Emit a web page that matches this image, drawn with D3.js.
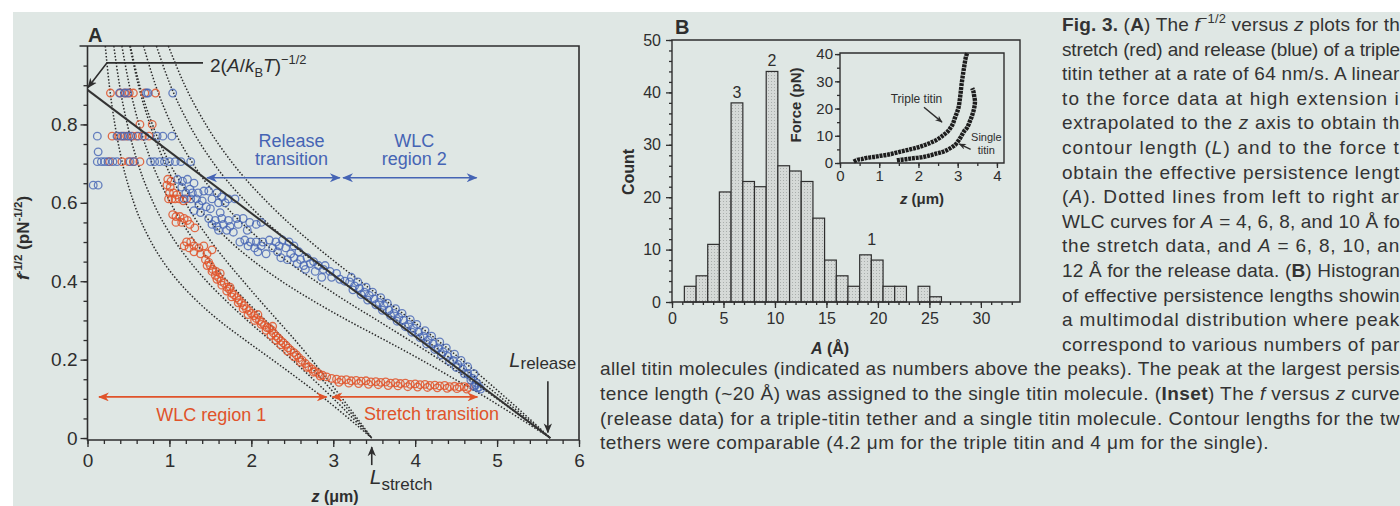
<!DOCTYPE html>
<html>
<head>
<meta charset="utf-8">
<script src="https://cdn.jsdelivr.net/npm/d3@7"></script>
<style>
  body { margin: 0; background: #fff; }
  svg { display: block; font-family: "Liberation Sans", Arial, Helvetica, sans-serif; }
</style>
</head>
<body>
<div id="fig"></div>
<script>
// ---------- Panel A: f^-1/2 vs z, stretch (red) and release (blue) ----------
const stretchPts = [
  [0.28,0.88],[0.40,0.88],[0.46,0.88],[0.51,0.88],[0.56,0.88],[0.70,0.88],[0.83,0.88],
  [0.64,0.80],[0.79,0.80],
  [0.30,0.77],[0.37,0.77],[0.43,0.77],[0.48,0.77],[0.55,0.77],[0.60,0.77],[0.67,0.77],[0.75,0.77],
  [0.27,0.705],[0.42,0.705],[0.50,0.705],[0.56,0.705],[0.64,0.705],
  [0.98,0.66],[1.02,0.655],[0.97,0.645],[1.01,0.64],[1.00,0.625],[1.05,0.625],[1.09,0.62],[0.99,0.61],
  [1.03,0.61],[1.07,0.61],[1.12,0.61],[1.17,0.605],[1.21,0.61],
  [1.04,0.57],[1.08,0.565],[1.13,0.565],[1.18,0.56],[1.22,0.555],[1.08,0.55],[1.15,0.55],[1.25,0.545],[1.31,0.536],
  [1.21,0.50],[1.26,0.50],[1.18,0.49],[1.24,0.485],[1.30,0.49],[1.36,0.485],[1.42,0.49],[1.30,0.475],
  [1.38,0.47],[1.46,0.47],[1.52,0.48],
  [1.44,0.455],[1.48,0.448],[1.50,0.44],[1.53,0.43],[1.57,0.425],[1.56,0.415],[1.60,0.41],[1.63,0.40],
  [1.67,0.395],[1.70,0.385],[1.73,0.38],[1.76,0.37],[1.79,0.365],[1.82,0.358],[1.85,0.352],[1.88,0.345],
  [1.91,0.338],[1.94,0.33],[1.97,0.325],[2.00,0.318],[2.03,0.312],[2.06,0.305],[2.10,0.30],[2.13,0.295],
  [2.16,0.288],[2.19,0.282],[2.22,0.28],[2.25,0.275],[2.27,0.268],[2.30,0.26],[2.33,0.255],[2.36,0.248],
  [2.39,0.243],[2.42,0.237],[2.45,0.23],[2.48,0.224],[2.52,0.218],[2.55,0.212],[2.58,0.205],[2.62,0.198],
  [2.66,0.19],[2.70,0.182],[2.74,0.176],[2.78,0.17],[2.82,0.165],[2.87,0.16],[2.92,0.156],[2.98,0.152],
  [1.46,0.44],[1.52,0.425],[1.58,0.405],[1.64,0.39],[1.70,0.375],[1.76,0.36],[1.84,0.345],[1.90,0.33],
  [1.96,0.315],[2.04,0.30],[2.12,0.29],[2.18,0.275],[2.24,0.262],[2.30,0.25],[2.36,0.238],[2.44,0.222],
  [2.52,0.208],[2.60,0.194],[2.68,0.18],[2.76,0.168],[2.84,0.158],
  [1.62,0.42],[1.74,0.385],[2.08,0.315],[2.26,0.285],
  [3.04,0.15],[3.10,0.148],[3.16,0.149],[3.22,0.146],[3.28,0.147],[3.34,0.145],[3.40,0.146],[3.46,0.143],
  [3.52,0.144],[3.58,0.142],[3.64,0.143],[3.70,0.140],[3.76,0.141],[3.82,0.139],[3.88,0.140],[3.94,0.137],
  [4.00,0.138],[4.06,0.136],[4.12,0.137],[4.18,0.134],[4.24,0.135],[4.30,0.133],[4.36,0.134],[4.42,0.131],
  [4.48,0.132],[4.54,0.130],[4.60,0.131],[4.65,0.129],
  [3.07,0.142],[3.19,0.140],[3.31,0.139],[3.43,0.137],[3.55,0.136],[3.67,0.134],[3.79,0.133],[3.91,0.131],
  [4.03,0.130],[4.15,0.129],[4.27,0.128],[4.39,0.127],[4.51,0.126],[4.63,0.125]
];

const releasePts = [
  [0.39,0.88],[0.45,0.88],[0.49,0.88],[0.72,0.88],[0.74,0.88],[1.04,0.88],
  [0.12,0.77],[0.36,0.77],[0.41,0.77],[0.45,0.77],[0.50,0.77],[0.53,0.77],[0.62,0.77],[0.70,0.77],
  [0.85,0.77],[0.92,0.77],[1.03,0.77],
  [0.13,0.73],
  [0.12,0.705],[0.17,0.705],[0.21,0.705],[0.25,0.705],[0.31,0.705],[0.36,0.705],[0.52,0.705],[0.57,0.705],
  [0.77,0.705],[0.82,0.705],[0.88,0.705],[0.94,0.705],[1.00,0.705],[1.07,0.705],[1.14,0.705],[1.26,0.705],
  [0.07,0.645],[0.13,0.645],
  [1.10,0.66],[1.16,0.655],[1.22,0.66],[1.30,0.65],[1.15,0.64],[1.25,0.635],[1.20,0.625],[1.28,0.625],
  [1.35,0.625],[1.42,0.63],[1.48,0.63],[1.58,0.625],[1.18,0.61],[1.26,0.61],[1.33,0.61],[1.40,0.605],
  [1.52,0.61],[1.64,0.615],[1.72,0.61],[1.80,0.61],[1.36,0.595],[1.45,0.59],[1.60,0.60],[1.68,0.60],
  [1.30,0.58],[1.38,0.575],[1.50,0.585],[1.62,0.575],
  [1.48,0.56],[1.56,0.555],[1.64,0.56],[1.72,0.555],[1.82,0.56],[1.90,0.56],[1.52,0.545],[1.58,0.54],
  [1.66,0.545],[1.74,0.54],[1.84,0.545],[1.98,0.55],[2.06,0.545],[2.12,0.55],[1.60,0.53],[1.70,0.53],
  [1.78,0.525],[1.95,0.53],
  [1.86,0.50],[1.92,0.505],[1.99,0.50],[2.06,0.50],[2.14,0.50],[2.22,0.505],[2.30,0.50],[2.38,0.505],
  [2.46,0.50],[1.96,0.49],[2.04,0.485],[2.12,0.49],[2.26,0.485],[2.34,0.49],[2.42,0.485],[2.52,0.49],
  [2.08,0.475],[2.18,0.47],[2.32,0.475],[2.48,0.47],[2.58,0.475],
  [2.36,0.46],[2.44,0.455],[2.52,0.46],[2.60,0.455],[2.68,0.46],[2.76,0.45],[2.56,0.445],[2.64,0.44],
  [2.72,0.445],[2.82,0.44],[2.90,0.44],[2.66,0.43],[2.78,0.425],[2.88,0.43],[2.96,0.425],[3.04,0.42],
  [2.86,0.41],[2.98,0.41],[3.08,0.405],[3.14,0.40],
  [3.20,0.398],[3.26,0.388],[3.32,0.382],[3.38,0.372],[3.44,0.364],[3.50,0.355],[3.56,0.346],[3.62,0.338],
  [3.68,0.326],[3.74,0.318],[3.80,0.308],[3.86,0.300],[3.92,0.290],[3.98,0.280],[4.04,0.270],[4.10,0.260],
  [4.16,0.250],[4.22,0.240],[4.28,0.230],[4.34,0.220],[4.40,0.208],[4.46,0.198],[4.52,0.188],[4.58,0.176],
  [4.64,0.165],[4.70,0.152],[4.75,0.140],[4.78,0.130],
  [3.22,0.41],[3.30,0.398],[3.40,0.385],[3.48,0.372],[3.58,0.358],[3.66,0.344],[3.76,0.330],[3.84,0.318],
  [3.94,0.302],[4.02,0.290],[4.12,0.274],[4.20,0.260],[4.30,0.245],[4.38,0.230],[4.48,0.214],[4.56,0.198],
  [4.64,0.182],[4.72,0.164],
  [3.24,0.378],[3.34,0.366],[3.42,0.352],[3.52,0.340],[3.60,0.326],[3.70,0.312],[3.78,0.298],[3.88,0.284],
  [3.96,0.270],[4.06,0.256],[4.14,0.240],[4.24,0.226],[4.32,0.212],[4.42,0.196],[4.50,0.180],[4.60,0.164],
  [4.68,0.148],[4.74,0.135],[4.80,0.125],[4.76,0.128],[4.72,0.132]
];

// linear fit to the release data: intercept at z = 0 and at f^-1/2 = 0
const fitLine = [[0, 0.888], [5.65, 0]];

// dotted WLC curves, read at these f^-1/2 levels
const wlcV = [1, 0.9, 0.8, 0.7, 0.6, 0.5, 0.45, 0.4, 0.35, 0.3, 0.25, 0.2, 0.15, 0.1, 0.05, 0];
const stretchA4  = [0.217,0.266,0.334,0.428,0.566,0.777,0.923,1.107,1.334,1.606,1.923,2.255,2.580,2.897,3.189,3.47];
const stretchA6  = [0.321,0.391,0.486,0.617,0.804,1.074,1.250,1.455,1.692,1.950,2.228,2.498,2.754,3.005,3.241,3.47];
const stretchA8  = [0.420,0.510,0.628,0.790,1.014,1.315,1.501,1.711,1.935,2.174,2.411,2.640,2.861,3.071,3.272,3.47];
const stretchA10 = [0.516,0.621,0.762,0.948,1.196,1.513,1.700,1.902,2.108,2.321,2.532,2.734,2.928,3.113,3.293,3.47];
const releaseA6  = [0.523,0.636,0.792,1.005,1.309,1.749,2.035,2.369,2.755,3.176,3.627,4.068,4.484,4.893,5.277,5.65];
const releaseA8  = [0.683,0.831,1.023,1.287,1.650,2.142,2.445,2.787,3.151,3.540,3.925,4.298,4.658,5.000,5.328,5.65];
const releaseA10 = [0.841,1.012,1.240,1.543,1.947,2.463,2.767,3.097,3.432,3.780,4.123,4.452,4.767,5.068,5.362,5.65];
const releaseA12 = [0.987,1.187,1.444,1.775,2.202,2.725,3.019,3.328,3.645,3.961,4.269,4.564,4.848,5.122,5.390,5.65];

const aTicksX = [0, 1, 2, 3, 4, 5, 6];
const aTicksY = [0, 0.2, 0.4, 0.6, 0.8];

// ---------- Panel B: histogram of persistence lengths ----------
const binEdges = [1.2,2.34,3.47,4.6,5.74,6.88,8.01,9.15,10.28,11.42,12.55,13.69,14.82,15.96,17.09,18.23,19.36,20.5,21.63,22.77,23.9,25.04,26.17];
const counts   = [3,5,11,21,38,23,22,44,26,25,23,16,8,5,3,9,8,3,3,0,3,1];
const peakText  = ["3", "2", "1"];
const peakA     = [6.31, 9.72, 19.4];
const peakCount = [38, 44, 9];
const bTicksX = [0, 5, 10, 15, 20, 25, 30];
const bTicksY = [0, 10, 20, 30, 40, 50];

// ---------- Inset: force vs z (release) ----------
const tripleZ = [0.35,0.45,0.55,0.68,0.85,1.02,1.20,1.36,1.52,1.70,1.87,2.04,2.20,2.38,2.52,2.64,2.74,2.81,2.88,2.93,2.98,3.02,3.06,3.10,3.15,3.21,3.24];
const tripleF = [0.5,1.2,1.4,1.9,2.2,2.6,3.0,3.5,4.1,4.7,5.3,6.0,6.8,7.9,9.0,10.3,11.5,12.8,14.5,16.6,18.5,20.3,24.0,29.0,34.0,39.0,40.3];
const singleZ = [1.45,1.55,1.68,1.79,1.95,2.13,2.30,2.47,2.60,2.72,2.83,2.93,3.00,3.06,3.11,3.16,3.24,3.31,3.36,3.40,3.43,3.44,3.42,3.40,3.37];
const singleF = [1.0,1.2,1.4,1.6,1.9,2.2,2.8,3.5,4.0,4.7,5.6,6.6,7.8,9.1,10.3,11.6,13.0,15.3,17.2,19.0,21.0,22.8,24.6,26.3,27.5];
const iTicksX = [0, 1, 2, 3, 4];
const iTicksY = [0, 10, 20, 30, 40];

// ---------- Caption lines (as printed, cut at the page edge) ----------
const captionRight = [
  [["Fig. 3. ","b"],["(",""],["A","b"],[") The ",""],["f","i"],["−1/2","sup"],[" versus ",""],["z","i"],[" plots for th",""]],
  [["stretch (red) and release (blue) of a triple",""]],
  [["titin tether at a rate of 64 nm/s. A linear ",""]],
  [["to the force data at high extension i",""]],
  [["extrapolated to the ",""],["z","i"],[" axis to obtain th",""]],
  [["contour length (",""],["L","i"],[") and to the force t",""]],
  [["obtain the effective persistence lengt",""]],
  [["(",""],["A","i"],["). Dotted lines from left to right ar",""]],
  [["WLC curves for ",""],["A","i"],[" = 4, 6, 8, and 10 Å fo",""]],
  [["the stretch data, and ",""],["A","i"],[" = 6, 8, 10, an",""]],
  [["12 Å for the release data. (",""],["B","b"],[") Histogran",""]],
  [["of effective persistence lengths showin",""]],
  [["a multimodal distribution where peak",""]],
  [["correspond to various numbers of par",""]]
];
const captionWide = [
  [["allel titin molecules (indicated as numbers above the peaks). The peak at the largest persis",""]],
  [["tence length (~20 Å) was assigned to the single titin molecule. (",""],["Inset","b"],[") The ",""],["f","i"],[" versus ",""],["z","i"],[" curve",""]],
  [["(release data) for a triple-titin tether and a single titin molecule. Contour lengths for the tw",""]],
  [["tethers were comparable (4.2 μm for the triple titin and 4 μm for the single).",""]]
];

// ---------------------------------------------------------------
const width = 1400, height = 506;
const ink = "#2e2e2e", red = "#e0532a", blue = "#4564b4";
const font = "Liberation Sans, Arial, Helvetica, sans-serif";

const svg = d3.select("#fig").append("svg")
  .attr("width", width)
  .attr("height", height);

svg.append("rect").attr("width", width).attr("height", height).attr("fill", "#fff");
// the scanned page
svg.append("rect").attr("x", 13).attr("y", 12)
  .attr("width", width - 13).attr("height", height - 12)
  .attr("fill", "#dfe7e4");

const defs = svg.append("defs");
function marker(id, color, w, h) {
  defs.append("marker")
    .attr("id", id)
    .attr("viewBox", "0 0 12 10")
    .attr("refX", 11).attr("refY", 5)
    .attr("markerWidth", w).attr("markerHeight", h)
    .attr("markerUnits", "userSpaceOnUse")
    .attr("orient", "auto-start-reverse")
    .append("path")
    .attr("d", "M0,0 L12,5 L0,10 L3.5,5 Z")
    .attr("fill", color);
}
marker("arRed", red, 12, 9);
marker("arBlue", blue, 12, 9);
marker("arInk", ink, 10, 9);
marker("arSmall", ink, 8, 6);

const stip = defs.append("pattern").attr("id", "stip")
  .attr("width", 3).attr("height", 3).attr("patternUnits", "userSpaceOnUse");
stip.append("rect").attr("width", 3).attr("height", 3).attr("fill", "#d5d9d7");
stip.append("rect").attr("width", 1).attr("height", 1).attr("fill", "#a9aeac");

// text with bold / italic / superscript / subscript pieces
function rich(parent, segs, fs) {
  const t = parent.append("text").attr("font-size", fs).attr("fill", ink);
  let cur = 0;
  segs.forEach(([s, st]) => {
    const tags = st.split(" ");
    const shift = tags.includes("sup") ? -0.4 * fs : tags.includes("sub") ? 0.28 * fs : 0;
    const sp = t.append("tspan").text(s);
    if (shift !== cur) sp.attr("dy", shift - cur);
    cur = shift;
    if (tags.includes("b")) sp.attr("font-weight", "bold");
    if (tags.includes("i")) sp.attr("font-style", "italic");
    if (tags.includes("sup") || tags.includes("sub")) sp.attr("font-size", fs * 0.68);
  });
  return t;
}

// axis with major + minor ticks, no domain line (frames are drawn separately)
function addAxis(parent, orient, scale, at, major, minor, fmt, opt) {
  const make = orient === "left" ? d3.axisLeft : d3.axisBottom;
  const tr = orient === "left" ? `translate(${at},0)` : `translate(0,${at})`;
  const gMin = parent.append("g").attr("transform", tr)
    .call(make(scale).tickValues(minor).tickSize(opt.minor).tickFormat(""));
  const gMaj = parent.append("g").attr("transform", tr)
    .call(make(scale).tickValues(major).tickSize(opt.major).tickPadding(opt.pad).tickFormat(fmt));
  [gMin, gMaj].forEach(g => {
    g.select(".domain").remove();
    g.selectAll(".tick line").attr("stroke", ink).attr("stroke-width", 1.3);
  });
  gMaj.attr("font-size", opt.fs).attr("font-family", font);
  gMaj.selectAll(".tick text").attr("fill", ink);
}

// ======================= Panel A =======================
const xA = d3.scaleLinear().domain([0, 6]).range([87.5, 579]);
const yA = d3.scaleLinear().domain([-0.005, 1.0]).range([440, 46]);
const gA = svg.append("g");

addAxis(gA, "left", yA, xA(0), aTicksY, d3.range(0, 0.96, 0.05),
  d => d === 0 ? "0" : d3.format(".1f")(d), {major: 7, minor: 4, pad: 3, fs: 19});
addAxis(gA, "bottom", xA, yA(-0.005), aTicksX, d3.range(0, 6.01, 0.2),
  d3.format("d"), {major: 7, minor: 4, pad: 7, fs: 19});

gA.append("path")
  .attr("d", `M${xA(0) - 8},${yA(1)} H${xA(6)} V${yA(-0.005)} H${xA(0)} V${yA(1)}`)
  .attr("fill", "none").attr("stroke", ink).attr("stroke-width", 1.6);

// dotted WLC curves
const wlcLine = d3.line()
  .x(d => xA(d[0])).y(d => yA(d[1]))
  .curve(d3.curveMonotoneX);
[stretchA4, stretchA6, stretchA8, stretchA10, releaseA6, releaseA8, releaseA10, releaseA12]
  .forEach(zs => {
    gA.append("path")
      .datum(zs.map((z, i) => [z, wlcV[i]]))
      .attr("d", wlcLine)
      .attr("fill", "none")
      .attr("stroke", "#2a2a2a")
      .attr("stroke-width", 1.5)
      .attr("stroke-dasharray", "1.5,1.8");
  });

// data
gA.append("g").selectAll("circle")
  .data(stretchPts).enter().append("circle")
  .attr("cx", d => xA(d[0])).attr("cy", d => yA(d[1])).attr("r", 3.8)
  .attr("fill", "none").attr("stroke", red).attr("stroke-width", 1.3).attr("stroke-opacity", 0.85);
gA.append("g").selectAll("circle")
  .data(releasePts).enter().append("circle")
  .attr("cx", d => xA(d[0])).attr("cy", d => yA(d[1])).attr("r", 3.8)
  .attr("fill", "none").attr("stroke", blue).attr("stroke-width", 1.3).attr("stroke-opacity", 0.8);

// linear fit
gA.append("path")
  .datum(fitLine)
  .attr("d", d3.line().x(d => xA(d[0])).y(d => yA(d[1])))
  .attr("stroke", "#333").attr("stroke-width", 2).attr("fill", "none");

// leader for the intercept label
gA.append("path")
  .attr("d", `M${xA(1.41)},${yA(0.957)} H${xA(0.238)} L${xA(0.006)},${yA(0.894)}`)
  .attr("fill", "none").attr("stroke", ink).attr("stroke-width", 1.6)
  .attr("marker-end", "url(#arInk)");
rich(gA, [["2(",""],["A","i"],["/",""],["k","i"],["B","sub"],["T","i"],[")",""],["−1/2","sup"]], 19)
  .attr("x", xA(1.496)).attr("y", yA(0.934));

// region arrows
function arrow(z1, z2, v, id, color) {
  gA.append("line")
    .attr("x1", xA(z1)).attr("x2", xA(z2)).attr("y1", yA(v)).attr("y2", yA(v))
    .attr("stroke", color).attr("stroke-width", 1.6)
    .attr("marker-start", `url(#${id})`).attr("marker-end", `url(#${id})`);
}
arrow(1.46, 3.08, 0.664, "arBlue", blue);
arrow(3.12, 4.75, 0.664, "arBlue", blue);
arrow(0.14, 2.92, 0.105, "arRed", red);
arrow(2.99, 4.76, 0.105, "arRed", red);

function label(txt, z, v, color) {
  gA.append("text").text(txt)
    .attr("x", xA(z)).attr("y", yA(v))
    .attr("text-anchor", "middle").attr("font-size", 18).attr("fill", color);
}
label("Release", 2.49, 0.743, blue);
label("transition", 2.49, 0.697, blue);
label("WLC", 3.99, 0.743, blue);
label("region 2", 3.99, 0.697, blue);
label("WLC region 1", 1.51, 0.043, red);
label("Stretch transition", 4.20, 0.046, red);

// contour length markers
gA.append("line")
  .attr("x1", xA(5.62)).attr("x2", xA(5.62)).attr("y1", yA(0.145)).attr("y2", yA(0.014))
  .attr("stroke", ink).attr("stroke-width", 1.6).attr("marker-end", "url(#arInk)");
rich(gA, [["L","i"],["release",""]], 20).attr("x", xA(5.15)).attr("y", yA(0.181))
  .select("tspan:nth-child(2)").attr("font-size", 17).attr("dy", 2);
gA.append("line")
  .attr("x1", xA(3.47)).attr("x2", xA(3.47)).attr("y1", yA(-0.069)).attr("y2", yA(-0.023))
  .attr("stroke", ink).attr("stroke-width", 1.6).attr("marker-end", "url(#arInk)");
rich(gA, [["L","i"],["stretch","sub"]], 21).attr("x", xA(3.445)).attr("y", yA(-0.117))
  .select("tspan:nth-child(2)").attr("font-size", 17);

// titles
svg.append("text").text("A").attr("x", 88).attr("y", 42)
  .attr("font-size", 20).attr("font-weight", "bold").attr("fill", ink);
rich(svg, [["f","b i"],["-1/2","sup b"],[" (pN","b"],["-1/2","sup b"],[")","b"]], 17)
  .attr("transform", "translate(29,238) rotate(-90)").attr("text-anchor", "middle");
rich(svg, [["z","b i"],[" (μm)","b"]], 16)
  .attr("x", 335).attr("y", 502).attr("text-anchor", "middle");

// ======================= Panel B =======================
const xB = d3.scaleLinear().domain([0, 33.8]).range([672, 1020]);
const yB = d3.scaleLinear().domain([0, 50]).range([302, 40]);
const gB = svg.append("g");

gB.append("g").selectAll("rect")
  .data(counts.map((c, i) => ({c, x0: binEdges[i], x1: binEdges[i + 1]})).filter(d => d.c > 0))
  .enter().append("rect")
  .attr("x", d => xB(d.x0))
  .attr("width", d => xB(d.x1) - xB(d.x0))
  .attr("y", d => yB(d.c))
  .attr("height", d => yB(0) - yB(d.c))
  .attr("fill", "url(#stip)")
  .attr("stroke", ink).attr("stroke-width", 1.2);

addAxis(gB, "left", yB, xB(0), bTicksY, d3.range(0, 51, 2), d3.format("d"),
  {major: 6, minor: 3, pad: 5, fs: 16});
addAxis(gB, "bottom", xB, yB(0), bTicksX, d3.range(0, 34, 1), d3.format("d"),
  {major: 6, minor: 3, pad: 5, fs: 16});
gB.append("path")
  .attr("d", `M${xB(0)},${yB(50)} H${xB(33.8)} V${yB(0)} H${xB(0)} Z`)
  .attr("fill", "none").attr("stroke", ink).attr("stroke-width", 1.4);

peakText.forEach((t, i) => {
  gB.append("text").text(t)
    .attr("x", xB(peakA[i])).attr("y", yB(peakCount[i]) - (i === 2 ? 10 : 5))
    .attr("text-anchor", "middle").attr("font-size", 16).attr("fill", ink);
});

svg.append("text").text("B").attr("x", 675).attr("y", 34)
  .attr("font-size", 20).attr("font-weight", "bold").attr("fill", ink);
svg.append("text").text("Count")
  .attr("transform", "translate(634,172) rotate(-90)").attr("text-anchor", "middle")
  .attr("font-size", 16).attr("font-weight", "bold").attr("fill", ink);
rich(svg, [["A","b i"],[" (Å)","b"]], 16)
  .attr("x", 830).attr("y", 354).attr("text-anchor", "middle");

// ======================= Inset =======================
const xI = d3.scaleLinear().domain([0, 4.18]).range([840, 1004]);
const yI = d3.scaleLinear().domain([0, 40.4]).range([163, 53]);
const gI = svg.append("g");

addAxis(gI, "left", yI, xI(0), iTicksY, d3.range(0, 41, 5), d3.format("d"),
  {major: 5, minor: 3, pad: 2, fs: 15});
addAxis(gI, "bottom", xI, yI(0), iTicksX, d3.range(0, 4.1, 0.5), d3.format("d"),
  {major: 5, minor: 3, pad: 2, fs: 15});
gI.append("path")
  .attr("d", `M${xI(0)},${yI(40.4)} H${xI(4.18)} V${yI(0)} H${xI(0)} Z`)
  .attr("fill", "none").attr("stroke", ink).attr("stroke-width", 1.4);

const forceLine = d3.line().x(d => xI(d[0])).y(d => yI(d[1])).curve(d3.curveCatmullRom);
[[tripleZ, tripleF], [singleZ, singleF]].forEach(([zs, fs]) => {
  gI.append("path")
    .datum(zs.map((z, i) => [z, fs[i]]))
    .attr("d", forceLine)
    .attr("fill", "none").attr("stroke", "#1e1e1e")
    .attr("stroke-width", 4.4).attr("stroke-dasharray", "3,0.8");
});

gI.append("text").text("Triple titin").attr("x", xI(1.95)).attr("y", yI(22))
  .attr("text-anchor", "middle").attr("font-size", 12).attr("fill", ink);
gI.append("line")
  .attr("x1", xI(2.14)).attr("y1", yI(20.5)).attr("x2", xI(2.6)).attr("y2", yI(15))
  .attr("stroke", ink).attr("stroke-width", 1.4).attr("marker-end", "url(#arSmall)");
gI.append("text").text("Single").attr("x", xI(3.73)).attr("y", yI(8))
  .attr("text-anchor", "middle").attr("font-size", 11).attr("fill", ink);
gI.append("text").text("titin").attr("x", xI(3.73)).attr("y", yI(3.2))
  .attr("text-anchor", "middle").attr("font-size", 11).attr("fill", ink);
gI.append("line")
  .attr("x1", xI(3.33)).attr("y1", yI(5)).attr("x2", xI(3.04)).attr("y2", yI(7))
  .attr("stroke", ink).attr("stroke-width", 1.4).attr("marker-end", "url(#arSmall)");

svg.append("text").text("Force (pN)")
  .attr("transform", "translate(801,105) rotate(-90)").attr("text-anchor", "middle")
  .attr("font-size", 15).attr("font-weight", "bold").attr("fill", ink);
rich(svg, [["z","b i"],[" (μm)","b"]], 15)
  .attr("x", 922).attr("y", 204).attr("text-anchor", "middle");

// ======================= Caption =======================
function captionLine(segs, x, y, target) {
  const t = rich(svg, segs, 19).attr("x", x).attr("y", y).attr("fill", "#333");
  const node = t.node();
  const w = node.getComputedTextLength();
  const n = node.textContent.length;
  t.attr("letter-spacing", (target - w) / n);
}
captionRight.forEach((segs, i) => captionLine(segs, 1062, 31 + 24.6 * i, 338));
captionWide.forEach((segs, i) => captionLine(segs, 600, 31 + 24.6 * (14 + i), i < 3 ? 800 : 669));
</script>
</body>
</html>
